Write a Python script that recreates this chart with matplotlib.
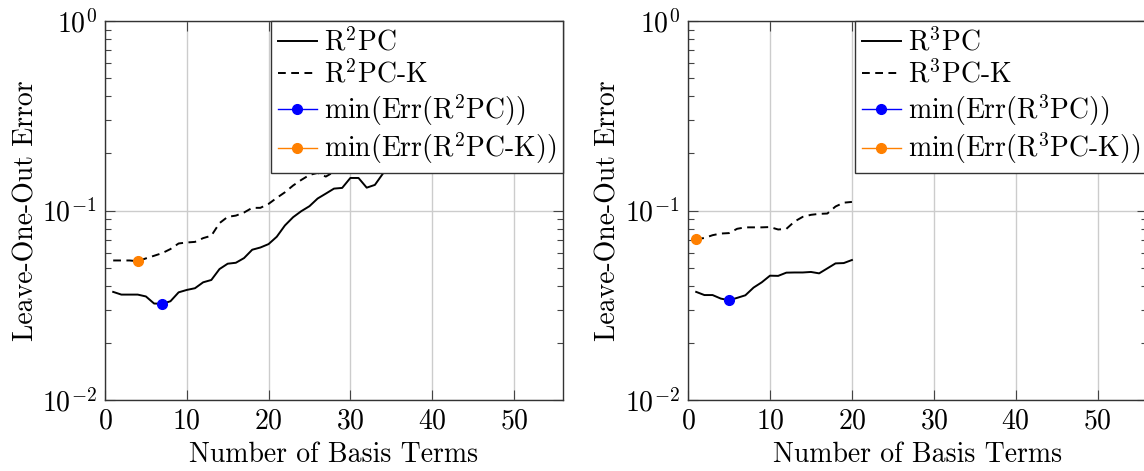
import matplotlib
matplotlib.use("Agg")
import matplotlib.pyplot as plt
import numpy as np

plt.rcParams['font.family'] = 'cmr10'
plt.rcParams['mathtext.fontset'] = 'cm'
plt.rcParams['axes.formatter.use_mathtext'] = True
plt.rcParams['axes.unicode_minus'] = True

# left panel: R^2PC
terms_r2 = list(range(1, 37))
err_r2 = [0.0372, 0.0360, 0.0360, 0.0360, 0.0352, 0.0323, 0.0322, 0.0332, 0.0370, 0.0381,
          0.0389, 0.0418, 0.0430, 0.0491, 0.0524, 0.0530, 0.0561, 0.0621, 0.0638, 0.0665,
          0.0727, 0.0834, 0.0922, 0.0992, 0.1054, 0.1157, 0.1228, 0.1305, 0.1316, 0.1485,
          0.1485, 0.1320, 0.1365, 0.1570, 0.1700, 0.1850]
terms_r2k = list(range(1, 31))
err_r2k = [0.0545, 0.0545, 0.0545, 0.0540, 0.0559, 0.0577, 0.0596, 0.0626, 0.0670, 0.0678,
           0.0683, 0.0715, 0.0736, 0.0858, 0.0926, 0.0940, 0.0976, 0.1033, 0.1033, 0.1084,
           0.1166, 0.1248, 0.1355, 0.1450, 0.1540, 0.1580, 0.1510, 0.1600, 0.1700, 0.1800]

# right panel: R^3PC
terms_r3 = list(range(1, 21))
err_r3 = [0.0372, 0.0358, 0.0358, 0.0343, 0.0336, 0.0346, 0.0357, 0.0392, 0.0418, 0.0453,
          0.0452, 0.0470, 0.0471, 0.0471, 0.0474, 0.0466, 0.0495, 0.0526, 0.0528, 0.0548]
err_r3k = [0.0706, 0.0716, 0.0741, 0.0756, 0.0760, 0.0801, 0.0815, 0.0815, 0.0815, 0.0818,
           0.0794, 0.0800, 0.0875, 0.0926, 0.0949, 0.0960, 0.0964, 0.1050, 0.1100, 0.1110]

panels = [
    ("2", terms_r2, err_r2, terms_r2k, err_r2k),
    ("3", terms_r3, err_r3, terms_r3, err_r3k),
]

fig = plt.figure(figsize=(11.44, 4.71), dpi=100)
axes_pos = [[0.0918, 0.1507, 0.4003, 0.8047], [0.6014, 0.1507, 0.4012, 0.8047]]

fs = 20
for pos, (p, xa, ya, xb, yb) in zip(axes_pos, panels):
    ax = fig.add_axes(pos)
    ax.plot(xa, ya, color='black', lw=1.4, label='R$^%s$PC' % p)
    ax.plot(xb, yb, color='black', lw=1.4, linestyle=(0, (4, 2.8)), label='R$^%s$PC-K' % p)
    ia = int(np.argmin(ya))
    ib = int(np.argmin(yb))
    ax.plot([xa[ia]], [ya[ia]], '-o', color='blue', ms=7, lw=1, label='min(Err(R$^%s$PC))' % p)
    ax.plot([xb[ib]], [yb[ib]], '-o', color=(1, 0.5, 0), ms=7, lw=1, label='min(Err(R$^%s$PC-K))' % p)

    ax.set_yscale('log')
    ax.set_ylim(1e-2, 1e0)
    ax.set_xlim(0, 56)
    ax.set_xticks([0, 10, 20, 30, 40, 50])
    ax.grid(True, which='major', color='#cccccc', lw=1)
    ax.set_axisbelow(True)
    ax.tick_params(which='both', direction='in', top=True, right=True, labelsize=fs,
                   color='#444444', width=0.8)
    ax.tick_params(which='major', length=7, pad=6)
    ax.tick_params(which='minor', length=4)
    ax.tick_params(axis='x', which='minor', bottom=False, top=False)
    for s in ax.spines.values():
        s.set_color('#333333')
        s.set_linewidth(1)
    ax.set_xlabel('Number of Basis Terms', fontsize=fs, labelpad=5)
    ax.set_ylabel('Leave-One-Out Error', fontsize=fs, labelpad=2)
    leg = ax.legend(loc='upper right', fontsize=fs, borderaxespad=0, fancybox=False,
                    framealpha=1, edgecolor='#333333', handlelength=1.4,
                    handletextpad=0.25, labelspacing=0.12, borderpad=0.25)
    leg.get_frame().set_linewidth(1)
    leg.set_zorder(5)

fig.savefig('out.png', dpi=100)
